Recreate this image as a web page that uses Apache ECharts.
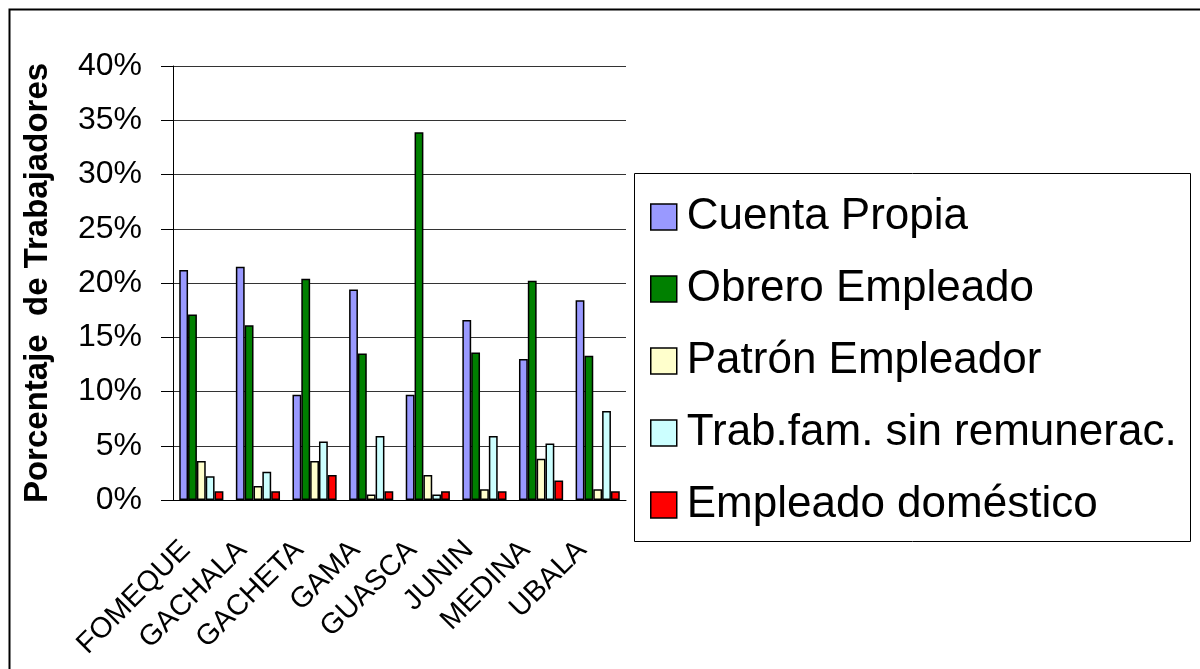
<!DOCTYPE html>
<html>
<head>
<meta charset="utf-8">
<script src="https://cdn.jsdelivr.net/npm/echarts@6/dist/echarts.min.js"></script>
<style>
  html, body { margin: 0; padding: 0; background: #fff; }
  #main { width: 1200px; height: 669px; }
</style>
</head>
<body>
<div id="main"></div>
<script>
// municipios
const categories = ['FOMEQUE', 'GACHALA', 'GACHETA', 'GAMA', 'GUASCA', 'JUNIN', 'MEDINA', 'UBALA'];

// porcentaje de trabajadores por tipo
const cuentaPropia = [21.2, 21.5, 9.7, 19.4, 9.7, 16.6, 13.0, 18.4];
const obreroEmpleado = [17.1, 16.1, 20.4, 13.5, 33.9, 13.6, 20.2, 13.3];
const patronEmpleador = [3.6, 1.3, 3.6, 0.5, 2.3, 1.0, 3.8, 1.0];
const trabFamiliar = [2.2, 2.6, 5.4, 5.9, 0.5, 5.9, 5.2, 8.2];
const empleadoDomestico = [0.8, 0.8, 2.3, 0.8, 0.8, 0.8, 1.8, 0.8];

const seriesNames = ['Cuenta Propia', 'Obrero Empleado', 'Patrón Empleador', 'Trab.fam. sin remunerac.', 'Empleado doméstico'];
const seriesColors = ['#9999ff', '#008000', '#ffffcc', '#ccffff', '#ff0000'];
const seriesData = [cuentaPropia, obreroEmpleado, patronEmpleador, trabFamiliar, empleadoDomestico];

const font = 'Liberation Sans, Arial, sans-serif';

const chart = echarts.init(document.getElementById('main'));

const option = {
  backgroundColor: '#fff',
  animation: false,
  textStyle: { fontFamily: font },
  grid: {
    left: 173,
    right: 574,
    top: 66,
    bottom: 169
  },
  legend: {
    orient: 'vertical',
    left: 650,
    top: 195,
    padding: 0,
    icon: 'rect',
    itemWidth: 26,
    itemHeight: 26,
    itemGap: 28,
    itemStyle: { borderColor: '#000', borderWidth: 1.5 },
    textStyle: { fontSize: 44, color: '#000', fontFamily: font, padding: [0, 0, 0, 5] },
    data: seriesNames
  },
  xAxis: {
    type: 'category',
    data: categories,
    axisLine: { lineStyle: { color: '#000', width: 1 } },
    axisTick: { length: 8, lineStyle: { color: '#000' } },
    axisLabel: {
      rotate: 45,
      interval: 0,
      margin: 30,
      padding: [0, 22, 0, 0],
      fontSize: 29,
      color: '#000',
      fontFamily: font
    }
  },
  yAxis: {
    type: 'value',
    min: 0,
    max: 40,
    interval: 5,
    name: 'Porcentaje  de Trabajadores',
    nameLocation: 'middle',
    nameGap: 119,
    nameTextStyle: { fontSize: 33, fontWeight: 'bold', color: '#000', fontFamily: font },
    axisLine: { show: true, lineStyle: { color: '#000', width: 1 } },
    axisTick: { show: true, length: 12, lineStyle: { color: '#000' } },
    axisLabel: {
      formatter: '{value}%',
      margin: 31,
      fontSize: 32,
      color: '#000',
      fontFamily: font
    },
    splitLine: { show: true, lineStyle: { color: '#333', width: 1 } }
  },
  graphic: [
    {
      type: 'rect',
      shape: { x: 9.5, y: 9.5, width: 1300, height: 800 },
      style: { fill: 'none', stroke: '#000', lineWidth: 2 },
      silent: true
    },
    {
      type: 'rect',
      shape: { x: 634.5, y: 173.5, width: 556, height: 368 },
      style: { fill: 'none', stroke: '#000', lineWidth: 1 },
      silent: true
    }
  ],
  series: seriesNames.map((name, i) => ({
    name: name,
    type: 'bar',
    data: seriesData[i],
    barGap: '0%',
    barCategoryGap: '22%',
    itemStyle: {
      color: seriesColors[i],
      borderColor: '#000',
      borderWidth: 1.5
    }
  }))
};

chart.setOption(option);
</script>
</body>
</html>
